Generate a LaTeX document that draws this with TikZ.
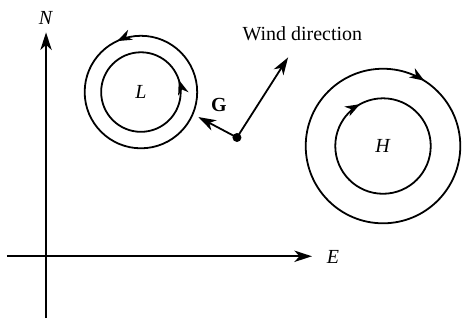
\documentclass[tikz,border=0pt]{standalone}
\usepackage{fontspec}
\setmainfont{Liberation Serif}
\usetikzlibrary{arrows.meta,decorations.markings}

\begin{document}
\begin{tikzpicture}[
  font=\fontsize{10}{12}\selectfont,
  ln/.style  ={line width=0.9pt},
  ar/.style  ={ln, -{Stealth[length=3.1mm, width=2mm, inset=0.9mm]}},
  ccw/.style ={ln, postaction={decorate}, decoration={markings,
               mark=at position #1 with {\arrow{Stealth[length=2.6mm, width=1.9mm, inset=0.8mm]}}}},
  cw/.style  ={ln, postaction={decorate}, decoration={markings,
               mark=at position #1 with {\arrowreversed{Stealth[length=2.6mm, width=1.9mm, inset=0.8mm]}}}},
  dot/.style ={circle, fill, inner sep=0pt, minimum size=4.5pt}
]
\useasboundingbox (-0.81,-1.16) rectangle (7.32,4.51);
% ---------- axes ----------
\coordinate (nn) at (0,3.94);
\coordinate (ss) at (0,-1.09);
\coordinate (ww) at (-0.69,0);
\coordinate (ee) at (4.68,0);
\draw[ar] (ss) -- (nn);
\draw[ar] (ww) -- (ee);
\node (N) at (0,4.19)     {\textit{N}};
\node (E) at (5.05,-0.02) {\textit{E}};

% ---------- low ----------
\node (L) at (1.67,2.89) {\textit{L}};
\draw[ccw=0.32] (L.center) circle[radius=0.99];
\draw[ccw=0.05] (L.center) circle[radius=0.70];

% ---------- high ----------
\node (H) at (5.93,1.94) {\textit{H}};
\draw[cw=0.16] (H.center) circle[radius=1.36];
\draw[cw=0.33] (H.center) circle[radius=0.84];

% ---------- wind and G ----------
\node[dot] (p) at (3.36,2.09) {};
\coordinate (wd) at (4.26,3.50);
\coordinate (gt) at (2.68,2.45);
\draw[ar] (p.center) -- (wd);
\draw[ar] (p.center) -- (gt);
\node (G)  at (3.04,2.66) {\textbf{G}};
\node (wl) at (4.51,3.92) {Wind direction};
\end{tikzpicture}
\end{document}
